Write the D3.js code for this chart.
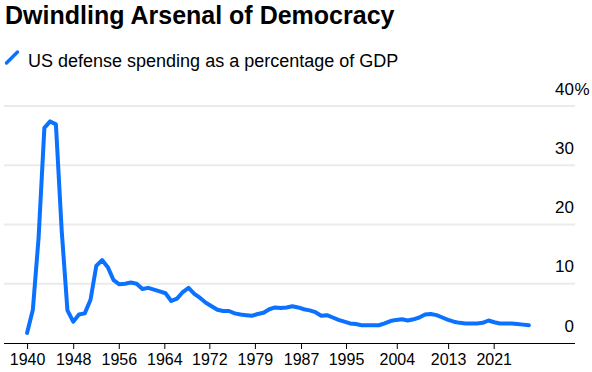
<!DOCTYPE html>
<html>
<head>
<meta charset="utf-8">
<script src="https://cdn.jsdelivr.net/npm/d3@7"></script>
<style>
  body { margin: 0; background: #fff; }
  svg { display: block; font-family: "Liberation Sans", Arial, sans-serif; }
  .grid line { stroke: #ebebeb; stroke-width: 2; }
  .x-axis text { font-size: 16px; fill: #000; }
  .y-label { font-size: 17px; fill: #000; }
</style>
</head>
<body>
<div id="chart"></div>
<script>
const years = [
  1940, 1941, 1942, 1943, 1944, 1945, 1946, 1947, 1948, 1949,
  1950, 1951, 1952, 1953, 1954, 1955, 1956, 1957, 1958, 1959,
  1960, 1961, 1962, 1963, 1964, 1965, 1966, 1967, 1968, 1969,
  1970, 1971, 1972, 1973, 1974, 1975, 1976, 1977, 1978, 1979,
  1980, 1981, 1982, 1983, 1984, 1985, 1986, 1987, 1988, 1989,
  1990, 1991, 1992, 1993, 1994, 1995, 1996, 1997, 1998, 1999,
  2000, 2001, 2002, 2003, 2004, 2005, 2006, 2007, 2008, 2009,
  2010, 2011, 2012, 2013, 2014, 2015, 2016, 2017, 2018, 2019,
  2020, 2021, 2022, 2023, 2024, 2025, 2026, 2027
];

// defense outlays, % of GDP
const defenseShare = [
  1.7, 5.6, 17.8, 36.3, 37.4, 36.9, 19.0, 5.5, 3.6, 4.8,
  5.0, 7.3, 13.0, 14.0, 12.8, 10.6, 9.9, 10.0, 10.2, 10.0,
  9.1, 9.3, 9.0, 8.7, 8.4, 7.1, 7.5, 8.6, 9.3, 8.3,
  7.6, 6.8, 6.2, 5.6, 5.4, 5.4, 5.0, 4.8, 4.7, 4.6,
  4.9, 5.1, 5.7, 6.0, 5.9, 6.0, 6.2, 6.0, 5.7, 5.5,
  5.2, 4.6, 4.7, 4.3, 3.9, 3.6, 3.3, 3.2, 3.0, 3.0,
  3.0, 3.0, 3.3, 3.7, 3.9, 4.0, 3.8, 4.0, 4.3, 4.8,
  4.9, 4.7, 4.3, 3.9, 3.6, 3.4, 3.3, 3.3, 3.3, 3.4,
  3.8, 3.5, 3.3, 3.3, 3.3, 3.2, 3.1, 3.0
];

// tick dates (fractional years) and the labels shown under them
const xTickDates = [1940, 1948, 1955.9, 1963.8, 1971.6, 1979.5, 1987.5, 1995.3, 2004.1, 2013, 2020.9];
const xTickLabels = ["1940", "1948", "1956", "1964", "1972", "1979", "1987", "1995", "2004", "2013", "2021"];
const yTicks = [0, 10, 20, 30, 40];

const width = 592;
const height = 372;
const blue = "#0a72ff";

const svg = d3.select("#chart")
  .append("svg")
  .attr("width", width)
  .attr("height", height);

const x = d3.scaleLinear().domain([1936, 2035]).range([4, 575]);
const y = d3.scaleLinear().domain([0, 40]).range([343, 106]);

// title + legend
svg.append("text")
  .attr("x", 5)
  .attr("y", 24)
  .attr("font-size", 25)
  .attr("font-weight", "bold")
  .attr("fill", "#000")
  .text("Dwindling Arsenal of Democracy");

svg.append("line")
  .attr("x1", 6.5).attr("y1", 63)
  .attr("x2", 17.5).attr("y2", 52)
  .attr("stroke", blue)
  .attr("stroke-width", 3.5)
  .attr("stroke-linecap", "round");

svg.append("text")
  .attr("x", 28)
  .attr("y", 66.5)
  .attr("font-size", 18)
  .attr("fill", "#000")
  .text("US defense spending as a percentage of GDP");

// gridlines
svg.append("g")
  .attr("class", "grid")
  .selectAll("line")
  .data(yTicks.filter((d) => d > 0))
  .join("line")
  .attr("x1", 4)
  .attr("x2", 575)
  .attr("y1", (d) => y(d))
  .attr("y2", (d) => y(d));

// y labels sit above their gridlines, right-aligned, % hanging outside
svg.append("g")
  .selectAll("text")
  .data(yTicks)
  .join("text")
  .attr("class", "y-label")
  .attr("x", 574)
  .attr("y", (d) => y(d) - 11.5)
  .attr("text-anchor", "end")
  .text((d) => d);

svg.append("text")
  .attr("class", "y-label")
  .attr("x", 574.5)
  .attr("y", y(40) - 11.5)
  .text("%");

// x axis
const xAxis = d3.axisBottom(x)
  .tickValues(xTickDates)
  .tickFormat((d, i) => xTickLabels[i])
  .tickSize(6)
  .tickPadding(5);

const gx = svg.append("g")
  .attr("class", "x-axis")
  .attr("transform", `translate(0,${y(0)})`)
  .call(xAxis);

gx.select(".domain")
  .attr("d", `M4,0.5H575`)
  .attr("stroke", "#000");
gx.selectAll(".tick line").attr("stroke", "#000");
gx.selectAll(".tick text").attr("font-family", null).attr("font-size", null);

// the line
const series = years.map((yr, i) => ({ year: yr, value: defenseShare[i] }));

const line = d3.line()
  .x((d) => x(d.year))
  .y((d) => y(d.value));

svg.append("path")
  .datum(series)
  .attr("fill", "none")
  .attr("stroke", blue)
  .attr("stroke-width", 4)
  .attr("stroke-linejoin", "round")
  .attr("stroke-linecap", "round")
  .attr("d", line);
</script>
</body>
</html>
